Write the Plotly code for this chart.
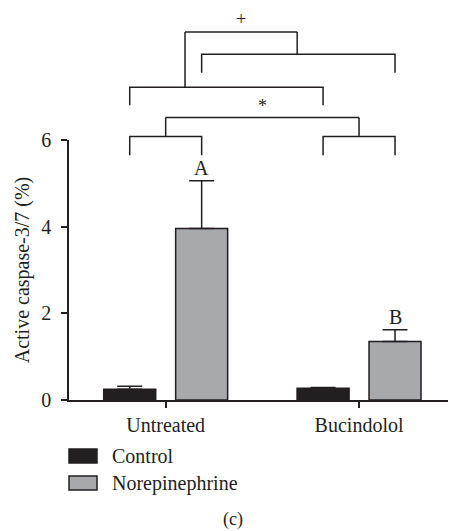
import plotly.graph_objects as go

# ---- data ----
categories = ["Untreated", "Bucindolol"]
series_names = ["Control", "Norepinephrine"]
control_vals = [0.25, 0.27]
control_err = [0.07, 0.02]
ne_vals = [3.96, 1.35]
ne_err = [1.10, 0.27]
letters = ["A", "B"]
y_ticks = [0, 2, 4, 6]
y_title = "Active caspase-3/7 (%)"
panel_label = "(c)"
sig_marks = ["*", "+"]

# ---- style ----
FONT = "Liberation Serif"
INK = "#231f20"
colors = ["#231f20", "#a7a9ac"]
YMAX = 6.0
BARGAP = 0.256
OFF = (1 - BARGAP) / 4  # bar center offset from category center

W, H = 449, 531
ML, MR, MT, MB = 69, 1, 140, 131

fig = go.Figure()
for name, vals, errs, col in [
    (series_names[0], control_vals, control_err, colors[0]),
    (series_names[1], ne_vals, ne_err, colors[1]),
]:
    fig.add_trace(go.Bar(
        name=name, x=categories, y=vals,
        marker=dict(color=col, line=dict(color=INK, width=1.5)),
        error_y=dict(type="data", symmetric=False, array=errs,
                     arrayminus=[0] * len(errs), color=INK,
                     thickness=1.5, width=12.5),
        showlegend=False,
    ))

def py(v):
    # data-unit height -> paper coordinate (plot area spans 0..YMAX)
    return v / YMAX

shapes = []
LS = dict(color=INK, width=1.5)

def bracket(xl, xr, ytop, ybot, stem_x=None, stem_top=None):
    shapes.append(dict(type="path", xref="x", yref="paper",
                       path=f"M {xl},{py(ybot)} L {xl},{py(ytop)} L {xr},{py(ytop)} L {xr},{py(ybot)}",
                       line=LS))
    if stem_x is not None:
        shapes.append(dict(type="line", xref="x", yref="paper",
                           x0=stem_x, x1=stem_x, y0=py(ytop), y1=py(stem_top), line=LS))

# within-group brackets
bracket(0 - OFF, 0 + OFF, 6.08, 5.65, 0, 6.52)
bracket(1 - OFF, 1 + OFF, 6.08, 5.65, 1, 6.52)
shapes.append(dict(type="line", xref="x", yref="paper", x0=0, x1=1,
                   y0=py(6.52), y1=py(6.52), line=LS))
# between-group brackets
bracket(0 - OFF, 1 - OFF, 7.22, 6.80, 0.10, 8.49)
bracket(0 + OFF, 1 + OFF, 7.98, 7.55, 0.68, 8.49)
shapes.append(dict(type="line", xref="x", yref="paper", x0=0.10, x1=0.68,
                   y0=py(8.49), y1=py(8.49), line=LS))

pw = W - ML - MR
ph = H - MT - MB
def paper_x(px):
    return (px - ML) / pw
def paper_y(pxy):
    return (H - MB - pxy) / ph

# custom legend boxes
for i, col in enumerate(colors):
    top = 449 + 27 * i
    shapes.append(dict(type="rect", xref="paper", yref="paper",
                       x0=paper_x(69), x1=paper_x(97),
                       y0=paper_y(top), y1=paper_y(top + 14),
                       fillcolor=col, line=dict(color=INK, width=1.5)))

annotations = []
tf = dict(family=FONT, size=20, color=INK)
sf = dict(family=FONT, size=18, color=INK)
for i, (lab, v, e) in enumerate(zip(letters, ne_vals, ne_err)):
    annotations.append(dict(x=i + OFF, y=v + e, xref="x", yref="y", text=lab,
                            showarrow=False, yanchor="bottom", yshift=0, font=tf))
annotations.append(dict(x=0.5, y=py(6.52), xref="x", yref="paper", text=sig_marks[0],
                        showarrow=False, yanchor="bottom", yshift=-1, font=sf))
annotations.append(dict(x=0.39, y=py(8.49), xref="x", yref="paper", text=sig_marks[1],
                        showarrow=False, yanchor="bottom", yshift=1, font=sf))
for i, name in enumerate(series_names):
    annotations.append(dict(x=paper_x(110), y=paper_y(456 + 27 * i), xref="paper", yref="paper",
                            text=name, showarrow=False, xanchor="left", yanchor="middle", font=tf))
annotations.append(dict(x=paper_x(233), y=paper_y(H), xref="paper", yref="paper",
                        text=panel_label, showarrow=False, xanchor="center", yanchor="bottom",
                        borderpad=0, font=sf))

fig.update_layout(
    width=W, height=H,
    margin=dict(l=ML, r=MR, t=MT, b=MB),
    paper_bgcolor="white", plot_bgcolor="white",
    barmode="group", bargap=BARGAP, bargroupgap=0.277,
    font=tf,
    shapes=shapes, annotations=annotations,
    showlegend=False,
)
fig.update_xaxes(range=[-0.5, 1.46], showline=True, linecolor=INK, linewidth=1.5,
                 ticks="outside", ticklen=6, tickwidth=1.5, tickcolor=INK,
                 showgrid=False, zeroline=False, tickfont=tf)
fig.update_yaxes(range=[0, YMAX], tickvals=y_ticks, showline=True, linecolor=INK, linewidth=1.5,
                 ticks="outside", ticklen=6, tickwidth=1.5, tickcolor=INK,
                 showgrid=False, zeroline=False, tickfont=tf, ticklabelstandoff=6,
                 title=dict(text=y_title, font=tf, standoff=6))

fig.write_html("out.html")
